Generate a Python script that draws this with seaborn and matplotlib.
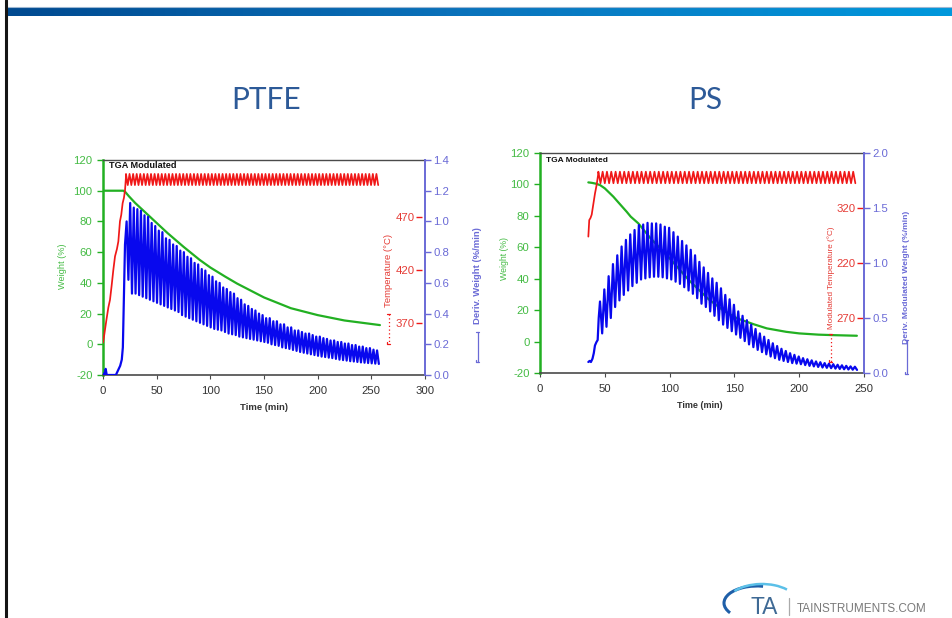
import numpy as np
import matplotlib
matplotlib.use("Agg")
import matplotlib.pyplot as plt
from matplotlib.colors import LinearSegmentedColormap
from matplotlib.patches import Arc
import seaborn as sns

sns.set_style("ticks")
plt.rcParams["font.family"] = ["Liberation Sans", "DejaVu Sans"]
plt.rcParams["axes.unicode_minus"] = False

FIG_W, FIG_H = 953, 618

GREEN = "#22b022"
GREEN_TXT = "#44bb44"
RED = "#f01818"
RED_TXT = "#e53b35"
BLUE = "#0808ee"
BLUE_AX = "#6a6ad6"
FRAME = "#4a4a4a"
TITLE_BLUE = "#2d5a98"

# modulation period used for both runs: 200 s
period_min = 200 / 60

# ---------------- PTFE run ----------------
ptfe_weight_time = [0, 10, 19, 21, 24, 30, 40, 50, 60, 75, 90, 100, 114, 125, 150, 175, 200, 225, 258]
ptfe_weight = [100, 100, 100, 99, 96.5, 92, 85.5, 79, 72.5, 63.5, 55, 50, 44, 39.5, 30.5, 23.5, 19, 15.5, 12.5]

ptfe_ramp_time = [0, 1, 3, 5, 6.5, 8, 9.6, 11.2, 13, 14.3, 15.8, 17, 18.3, 19.5, 20.5, 21.4]
ptfe_ramp_temp = [352, 358, 372, 385, 392, 405, 420, 433, 440, 447, 466, 472, 483, 488, 495, 508]
ptfe_mod_span = [21.4, 258.0]
ptfe_mod_limits = [500.0, 510.5]

ptfe_deriv_pre_time = [0, 1.5, 2.5, 3.5, 12, 14, 16, 17.5, 18.5, 19.5, 20.5]
ptfe_deriv_pre = [0.01, 0.0, 0.04, 0.0, 0.0, 0.03, 0.06, 0.10, 0.18, 0.50, 0.85]
ptfe_first_cycle = 22.0
ptfe_deriv_peak = [1.00, 1.12, 1.09, 1.08, 1.07, 1.04, 1.03, 0.99, 0.97, 0.94,
                   0.93, 0.89, 0.88, 0.85, 0.84, 0.81, 0.80, 0.77, 0.76, 0.73,
                   0.72, 0.69, 0.68, 0.65, 0.64, 0.61, 0.60, 0.57, 0.56, 0.54,
                   0.53, 0.50, 0.49, 0.46, 0.45, 0.43, 0.42, 0.40, 0.39, 0.37,
                   0.37, 0.35, 0.35, 0.33, 0.33, 0.31, 0.31, 0.29, 0.29, 0.28,
                   0.27, 0.27, 0.26, 0.25, 0.25, 0.24, 0.235, 0.225, 0.225, 0.215,
                   0.215, 0.205, 0.205, 0.195, 0.195, 0.185, 0.185, 0.175, 0.175, 0.165,
                   0.16]
ptfe_deriv_trough = [0.62, 0.53, 0.53, 0.52, 0.51, 0.50, 0.49, 0.48, 0.47, 0.46,
                     0.45, 0.44, 0.43, 0.42, 0.41, 0.39, 0.38, 0.37, 0.36, 0.35,
                     0.34, 0.33, 0.32, 0.31, 0.30, 0.295, 0.29, 0.28, 0.27, 0.265,
                     0.26, 0.25, 0.245, 0.24, 0.235, 0.23, 0.225, 0.22, 0.215, 0.21,
                     0.20, 0.195, 0.19, 0.18, 0.175, 0.17, 0.163, 0.157, 0.15, 0.145,
                     0.14, 0.135, 0.13, 0.125, 0.12, 0.117, 0.113, 0.11, 0.105, 0.10,
                     0.097, 0.094, 0.09, 0.088, 0.085, 0.082, 0.08, 0.078, 0.076, 0.074,
                     0.072]

ptfe_time_ticks = [0, 50, 100, 150, 200, 250, 300]
ptfe_weight_ticks = [-20, 0, 20, 40, 60, 80, 100, 120]
ptfe_temp_ticks = [370, 420, 470]
ptfe_temp_ticklabels = ["370", "420", "470"]
ptfe_deriv_ticks = [0.0, 0.2, 0.4, 0.6, 0.8, 1.0, 1.2, 1.4]

# ---------------- PS run ----------------
ps_weight_time = [37.3, 40, 43, 46.3, 50, 56.6, 60, 66.9, 70, 75.9, 85, 100, 115, 130, 142, 152,
                  165, 175, 190, 200, 215, 226, 244.5]
ps_weight = [101.3, 101, 100.5, 99.6, 97.5, 92.2, 89, 82.6, 79.5, 75.2, 66, 53, 39, 27, 19.5, 14.8,
             11, 8.4, 6.2, 5.2, 4.4, 4.1, 3.7]

ps_ramp_time = [37.3, 38.0, 39.0, 39.9, 41.2, 42.4, 43.7, 45.0]
ps_ramp_temp = [294, 309, 311, 314, 324, 333, 341, 351.5]
ps_mod_span = [45.0, 245.0]
ps_mod_limits = [342.5, 353.0]

ps_deriv_pre_time = [37.3, 38.3, 39.3, 40.5, 41.5, 42.4, 43.5, 44.5, 45.3]
ps_deriv_pre = [0.10, 0.11, 0.10, 0.13, 0.18, 0.25, 0.28, 0.30, 0.50]
ps_first_cycle = 46.3
ps_deriv_peak = [0.65, 0.76, 0.88, 0.99, 1.07, 1.15, 1.21, 1.26, 1.30, 1.345,
                 1.35, 1.365, 1.36, 1.36, 1.35, 1.33, 1.32, 1.28, 1.24, 1.20,
                 1.16, 1.12, 1.07, 1.01, 0.96, 0.91, 0.86, 0.82, 0.77, 0.71,
                 0.67, 0.62, 0.56, 0.52, 0.48, 0.44, 0.40, 0.36, 0.33, 0.30,
                 0.27, 0.245, 0.22, 0.20, 0.18, 0.165, 0.15, 0.135, 0.125, 0.115,
                 0.105, 0.098, 0.09, 0.085, 0.08, 0.075, 0.07, 0.065, 0.06, 0.057]
ps_deriv_trough = [0.36, 0.42, 0.50, 0.60, 0.66, 0.71, 0.75, 0.79, 0.82, 0.85,
                   0.86, 0.87, 0.875, 0.875, 0.87, 0.86, 0.85, 0.83, 0.81, 0.78,
                   0.75, 0.72, 0.68, 0.63, 0.60, 0.56, 0.52, 0.48, 0.44, 0.41,
                   0.38, 0.35, 0.32, 0.29, 0.26, 0.235, 0.21, 0.19, 0.17, 0.15,
                   0.135, 0.12, 0.11, 0.10, 0.09, 0.085, 0.08, 0.072, 0.065, 0.06,
                   0.055, 0.05, 0.047, 0.044, 0.04, 0.037, 0.034, 0.032, 0.03, 0.028]

ps_time_ticks = [0, 50, 100, 150, 200, 250]
ps_weight_ticks = [-20, 0, 20, 40, 60, 80, 100, 120]
ps_temp_ticks = [220, 270, 320]
ps_temp_ticklabels = ["270", "220", "320"]
ps_deriv_ticks = [0.0, 0.5, 1.0, 1.5, 2.0]


def modulation_wave(span, limits):
    """Temperature oscillation between its two limits, one turn per half period."""
    t = np.arange(span[0], span[1], period_min / 2)
    v = np.where(np.arange(len(t)) % 2 == 0, limits[1], limits[0])
    return t, v


def deriv_wave(first_cycle, peaks, troughs):
    """Derivative signal: each modulation cycle goes from its peak to its trough."""
    t, v = [], []
    for k, (p, q) in enumerate(zip(peaks, troughs)):
        t += [first_cycle + k * period_min, first_cycle + (k + 0.5) * period_min]
        v += [p, q]
    return t, v


def px_rect(left, top, right, bottom):
    return [left / FIG_W, 1 - bottom / FIG_H, (right - left) / FIG_W, (bottom - top) / FIG_H]


fig = plt.figure(figsize=(FIG_W / 100, FIG_H / 100), dpi=100)
fig.patch.set_facecolor("white")

# slide background: header band, left rule
bg = fig.add_axes([0, 0, 1, 1], zorder=-5)
band = LinearSegmentedColormap.from_list("band", ["#004a90", "#0a74bd", "#0098dc"])
bg.imshow(np.linspace(0, 1, 512)[None, :], cmap=band, aspect="auto", extent=[6, FIG_W, 16.5, 8])
bg.plot([6, FIG_W], [7.4, 7.4], color="#9db7d2", lw=0.8)
bg.plot([6, 6], [0, FIG_H], color="#151515", lw=2.2)
bg.set_xlim(0, FIG_W)
bg.set_ylim(FIG_H, 0)
bg.axis("off")

fg = fig.add_axes([0, 0, 1, 1], zorder=10)
fg.set_xlim(0, FIG_W)
fg.set_ylim(FIG_H, 0)
fg.patch.set_alpha(0)
fg.axis("off")


def draw_panel(box, xlim, time_ticks, weight_t, weight_v, ramp_t, ramp_v, mod_span, mod_limits,
               pre_t, pre_v, first_cycle, peaks, troughs, temp_lim, temp_ticks, temp_labels,
               red_pos, deriv_lim, deriv_ticks, deriv_fmt, weight_ticks, deriv_lw):
    ax = fig.add_axes(px_rect(*box))
    ax_t = ax.twinx()
    ax_d = ax.twinx()

    sns.lineplot(x=weight_t, y=weight_v, ax=ax, color=GREEN, linewidth=1.6,
                 estimator=None, sort=False)

    mt, mv = modulation_wave(mod_span, mod_limits)
    temp_t = list(ramp_t) + list(mt)
    temp_v = list(ramp_v) + list(mv)
    sns.lineplot(x=temp_t, y=temp_v, ax=ax_t, color=RED, linewidth=1.25,
                 estimator=None, sort=False)

    ct, cv = deriv_wave(first_cycle, peaks, troughs)
    sns.lineplot(x=list(pre_t) + ct, y=list(pre_v) + cv, ax=ax_d, color=BLUE, linewidth=deriv_lw,
                 estimator=None, sort=False)

    # weight axis
    ax.set_xlim(*xlim)
    ax.set_ylim(-20, 120)
    ax.set_xticks(time_ticks)
    ax.set_yticks(weight_ticks)
    ax.set_xlabel("")
    ax.set_ylabel("")
    ax.spines["right"].set_visible(False)
    ax.spines["top"].set_color(FRAME)
    ax.spines["top"].set_linewidth(1.0)
    ax.spines["bottom"].set_color(FRAME)
    ax.spines["bottom"].set_linewidth(1.2)
    ax.spines["left"].set_color(GREEN)
    ax.spines["left"].set_linewidth(1.8)
    ax.tick_params(axis="y", direction="out", length=4, width=1, color=GREEN,
                   labelcolor=GREEN_TXT, labelsize=8.2, pad=3.5)
    ax.tick_params(axis="x", direction="out", length=3, width=0.8, color=FRAME,
                   labelcolor="#333333", labelsize=8.2, pad=5)
    ax.set_facecolor("white")

    # temperature axis, drawn just inside the right frame
    ax_t.set_ylim(*temp_lim)
    ax_t.yaxis.tick_left()
    ax_t.set_yticks(temp_ticks)
    ax_t.set_yticklabels(temp_labels)
    ax_t.set_ylabel("")
    for name, sp in ax_t.spines.items():
        if name == "left":
            sp.set_position(("axes", red_pos))
            sp.set_color("none")
        else:
            sp.set_visible(False)
    ax_t.tick_params(axis="y", left=True, right=False, labelleft=True, labelright=False,
                     direction="out", length=4, width=1, color=RED, labelcolor=RED_TXT,
                     labelsize=8.2, pad=1.2)

    # derivative axis
    ax_d.set_ylim(*deriv_lim)
    ax_d.set_yticks(deriv_ticks)
    ax_d.set_yticklabels([deriv_fmt.format(v) for v in deriv_ticks])
    ax_d.set_ylabel("")
    for name, sp in ax_d.spines.items():
        if name == "right":
            sp.set_color(BLUE_AX)
            sp.set_linewidth(1.4)
        else:
            sp.set_visible(False)
    ax_d.tick_params(axis="y", right=True, direction="out", length=4, width=1,
                     color=BLUE_AX, labelcolor=BLUE_AX, labelsize=8.2, pad=2)
    return ax


draw_panel((103, 160, 425, 375), (0, 300), ptfe_time_ticks, ptfe_weight_time, ptfe_weight,
           ptfe_ramp_time, ptfe_ramp_temp, ptfe_mod_span, ptfe_mod_limits,
           ptfe_deriv_pre_time, ptfe_deriv_pre, ptfe_first_cycle, ptfe_deriv_peak, ptfe_deriv_trough,
           (321.4, 523.6), ptfe_temp_ticks, ptfe_temp_ticklabels, 0.99,
           (0, 1.4), ptfe_deriv_ticks, "{:.1f}", ptfe_weight_ticks, 1.6)

draw_panel((540, 153, 864, 373), (0, 250), ps_time_ticks, ps_weight_time, ps_weight,
           ps_ramp_time, ps_ramp_temp, ps_mod_span, ps_mod_limits,
           ps_deriv_pre_time, ps_deriv_pre, ps_first_cycle, ps_deriv_peak, ps_deriv_trough,
           (170, 370), ps_temp_ticks, ps_temp_ticklabels, 0.997,
           (0, 2.0), ps_deriv_ticks, "{:.1f}", ps_weight_ticks, 1.6)


def axis_title(x, y, text, color, size, bold=False, rot=90):
    fg.text(x, y, text, color=color, fontsize=size, rotation=rot, ha="center", va="center",
            fontweight="bold" if bold else "normal")


def legend_sample(x, y0, y1, color, dotted):
    fg.plot([x, x], [y0, y1], color=color, lw=0.9,
            linestyle=(0, (1, 2)) if dotted else "-")
    fg.plot([x - 1.5, x + 1.5], [y0, y0], color=color, lw=0.9)
    fg.plot([x - 1.5, x - 1.5, x + 1.5], [y1 - 2, y1, y1], color=color, lw=0.9)


# slide titles
fg.text(266, 100, "PTFE", fontsize=21.5, family=["Lato", "DejaVu Sans"],
        color=TITLE_BLUE, ha="center", va="center")
fg.text(705, 100, "PS", fontsize=21.5, family=["Lato", "DejaVu Sans"],
        color=TITLE_BLUE, ha="center", va="center")

# PTFE axis titles
fg.text(109, 166, "TGA Modulated", fontsize=6.6, fontweight="bold", color="#111111",
        ha="left", va="center")
axis_title(63, 266, "Weight (%)", GREEN_TXT, 6.6)
axis_title(264, 407, "Time (min)", "#333333", 6.8, bold=True, rot=0)
axis_title(389, 270, "Temperature (°C)", RED_TXT, 6.8)
legend_sample(389, 314, 344, RED, True)
axis_title(478, 276, "Deriv. Weight (%/min)", BLUE_AX, 6.8, bold=True)
legend_sample(478, 332, 362, BLUE_AX, False)

# PS axis titles
fg.text(546, 160, "TGA Modulated", fontsize=6.0, fontweight="bold", color="#111111",
        ha="left", va="center")
axis_title(505, 258, "Weight (%)", GREEN_TXT, 6.3)
axis_title(700, 405, "Time (min)", "#333333", 6.5, bold=True, rot=0)
axis_title(831, 278, "Modulated Temperature (°C)", RED_TXT, 5.9)
legend_sample(831, 334, 362, RED, True)
axis_title(907, 277, "Deriv. Modulated Weight (%/min)", BLUE_AX, 6.1, bold=True)
legend_sample(907, 340, 374, BLUE_AX, False)

# company mark
fg.add_patch(Arc((757, 603), 66, 34, theta1=160, theta2=290, color="#1f5fa8", lw=2.2))
fg.add_patch(Arc((762, 604), 72, 40, theta1=205, theta2=330, color="#5bc0e8", lw=1.8))
fg.text(764, 607, "TA", fontsize=16.5, color="#3f6a95", ha="center", va="center")
fg.plot([789, 789], [598, 615], color="#aaaaaa", lw=0.9)
fg.text(797, 609, "TAINSTRUMENTS.COM", fontsize=8.5, color="#7a7a7a", ha="left", va="center")

fig.savefig("out.png", dpi=100, facecolor="white")
